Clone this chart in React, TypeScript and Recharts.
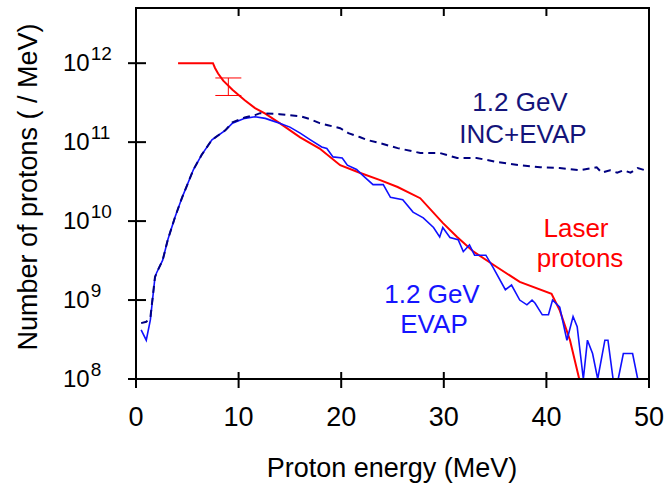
import React from 'react';
import { ComposedChart, Line, XAxis, YAxis, Scatter, ErrorBar } from 'recharts';

const xTicks = [0, 10, 20, 30, 40, 50];
const yTicks = [1e8, 1e9, 1e10, 1e11, 1e12];
const xDomain = [0, 50];
const yDomain = [1e8, 5e12];

const laserEnergy = [4.1, 7.5, 7.7, 8.0, 8.5, 9.4, 10.6, 11.6, 12.6, 14.0, 16.0, 17.9, 19.9, 21.8, 23.8, 25.5, 27.7, 29.9, 31.3, 32.9, 35.2, 37.4, 40.5, 41.3, 42.3, 43.2];
const laserCounts = [1e12, 1e12, 8.7e11, 7.4e11, 6.0e11, 4.6e11, 3.4e11, 2.7e11, 2.3e11, 1.74e11, 1.15e11, 8.3e10, 5.1e10, 4.1e10, 3.3e10, 2.7e10, 1.95e10, 9.5e9, 6.3e9, 4.1e9, 2.6e9, 1.7e9, 1.2e9, 7.4e8, 3.1e8, 1.0e8];

const errEnergy = [9.0];
const errCounts = [5.1e11];
const errRange = [[1.2e11, 1.4e11]];

const evapEnergy = [0.5, 1.0, 1.4, 1.85, 2.0, 2.6, 3.1, 3.8, 4.5, 5.6, 6.4, 7.4, 8.7, 9.4, 10.6, 11.6, 12.6, 13.1, 14.0, 15.0, 16.0, 17.0, 18.1, 18.6, 19.2, 20.1, 20.6, 21.5, 22.1, 23.1, 24.1, 24.8, 26.0, 27.0, 28.0, 29.0, 29.6, 29.9, 30.6, 31.4, 31.9, 32.5, 33.0, 34.1, 34.8, 36.0, 36.6, 37.4, 38.1, 38.6, 38.9, 39.6, 40.2, 40.6, 41.3, 42.0, 42.6, 43.0, 43.6, 44.0, 44.5, 45.0, 45.7, 46.0, 46.5, 47.0, 47.5, 48.4, 48.9];
const evapCounts = [4.2e8, 3.1e8, 5.6e8, 1.95e9, 2.2e9, 3.2e9, 5.8e9, 1.12e10, 2.0e10, 4.5e10, 6.9e10, 1.07e11, 1.41e11, 1.74e11, 2.0e11, 2.1e11, 2.0e11, 1.9e11, 1.74e11, 1.55e11, 1.3e11, 1.07e11, 8.7e10, 8.3e10, 6.5e10, 6.3e10, 5.1e10, 4.5e10, 3.8e10, 2.9e10, 2.9e10, 2.0e10, 1.86e10, 1.3e10, 1.1e10, 8.3e9, 6.3e9, 8.3e9, 6.2e9, 5.8e9, 4.1e9, 5.0e9, 3.7e9, 3.7e9, 2.6e9, 1.35e9, 1.55e9, 1.0e9, 8.7e8, 1.0e9, 9.1e8, 6.5e8, 6.5e8, 1.0e9, 8.1e8, 3.1e8, 6.2e8, 4.6e8, 1e8, 3.1e8, 2.1e8, 1e8, 3.1e8, 3.1e8, 1e8, 1e8, 2.1e8, 2.1e8, 1e8];

const incEnergy = [0.5, 1.0, 1.4, 1.85, 2.0, 2.6, 3.1, 3.8, 4.5, 5.6, 6.4, 7.4, 8.7, 9.4, 10.6, 11.6, 12.1, 14.0, 16.0, 17.0, 17.9, 18.7, 19.9, 20.7, 21.8, 22.6, 23.8, 25.5, 27.7, 29.6, 31.3, 33.2, 35.2, 37.4, 39.4, 41.3, 43.3, 44.9, 45.4, 46.2, 46.9, 47.5, 48.2, 48.9, 49.9];
const incCounts = [5.1e8, 5.3e8, 6.0e8, 1.95e9, 2.2e9, 3.2e9, 5.8e9, 1.12e10, 2.0e10, 4.5e10, 6.9e10, 1.07e11, 1.41e11, 1.78e11, 2.05e11, 2.2e11, 2.33e11, 2.26e11, 2.13e11, 1.95e11, 1.74e11, 1.64e11, 1.5e11, 1.3e11, 1.16e11, 1.06e11, 9.7e10, 8.4e10, 7.3e10, 7.3e10, 6.3e10, 6.3e10, 5.6e10, 5.1e10, 4.8e10, 4.7e10, 4.4e10, 4.8e10, 4.1e10, 4.4e10, 4.1e10, 4.4e10, 4.1e10, 4.7e10, 4.3e10];

const toData = (xs: number[], ys: number[]) => xs.map((x, i) => ({ x, y: ys[i] }));
const laserData = toData(laserEnergy, laserCounts);
const evapData = toData(evapEnergy, evapCounts);
const incData = toData(incEnergy, incCounts);
const errData = errEnergy.map((x, i) => ({ x, y: errCounts[i], err: errRange[i] }));

const FONT = '"Liberation Sans", Arial, sans-serif';

// layout of the plot box (shared by chart margins and frame)
const W = 667;
const H = 483;
const PLOT_LEFT = 136;
const PLOT_TOP = 8;
const PLOT_RIGHT = 649;
const PLOT_BOTTOM = 379;

const XTick = (props: any) => {
  const { x, y, payload } = props;
  const inner = payload.value !== xDomain[0] && payload.value !== xDomain[1];
  return (
    <g>
      <line x1={x} x2={x} y1={y - 7} y2={y + 9} stroke="#000" strokeWidth={2} />
      {inner && <line x1={x} x2={x} y1={PLOT_TOP} y2={PLOT_TOP + 8} stroke="#000" strokeWidth={2} />}
      <text x={x} y={y + 47} textAnchor="middle" fontSize={27} fill="#000" fontFamily={FONT}>
        {payload.value}
      </text>
    </g>
  );
};

const YTick = (props: any) => {
  const { x, y, payload } = props;
  const exp = Math.round(Math.log10(payload.value));
  return (
    <g>
      <line x1={x - 8} x2={x + 10} y1={y} y2={y} stroke="#000" strokeWidth={2} />
      <text x={x - 73} y={y + 8} textAnchor="start" fontSize={24} fill="#000" fontFamily={FONT}>
        <tspan>10</tspan>
        <tspan dx={1} dy={-11} fontSize={19}>{exp}</tspan>
      </text>
    </g>
  );
};

export default function App() {
  return (
    <div style={{ position: 'absolute', left: 0, top: 0, width: W, height: H, background: '#fff', fontFamily: FONT }}>
      <ComposedChart
        width={W}
        height={H}
        margin={{ top: PLOT_TOP, right: W - PLOT_RIGHT, left: 0, bottom: 0 }}
      >
        <XAxis
          dataKey="x"
          type="number"
          domain={xDomain}
          ticks={xTicks}
          height={H - PLOT_BOTTOM}
          tickSize={0}
          tickMargin={0}
          tickLine={false}
          tick={<XTick />}
          axisLine={{ stroke: '#000', strokeWidth: 2 }}
        />
        <YAxis
          type="number"
          scale="log"
          domain={yDomain}
          ticks={yTicks}
          width={PLOT_LEFT}
          tickSize={0}
          tickMargin={0}
          tickLine={false}
          tick={<YTick />}
          axisLine={{ stroke: '#000', strokeWidth: 2 }}
          allowDataOverflow
        />
        <Line data={laserData} dataKey="y" type="linear" stroke="#ff0000" strokeWidth={2} dot={false} isAnimationActive={false} />
        <Line data={evapData} dataKey="y" type="linear" stroke="#1010ff" strokeWidth={1.6} dot={false} isAnimationActive={false} />
        <Line data={incData} dataKey="y" type="linear" stroke="#000080" strokeWidth={2} strokeDasharray="7 5" dot={false} isAnimationActive={false} />
        <Scatter data={errData} dataKey="y" shape={() => <g />} isAnimationActive={false}>
          <ErrorBar dataKey="err" direction="y" width={13} stroke="#ff0000" strokeWidth={1} />
        </Scatter>
      </ComposedChart>
      <svg width={W} height={H} style={{ position: 'absolute', left: 0, top: 0, pointerEvents: 'none' }} fontFamily={FONT}>
        <rect
          x={PLOT_LEFT}
          y={PLOT_TOP}
          width={PLOT_RIGHT - PLOT_LEFT}
          height={PLOT_BOTTOM - PLOT_TOP}
          fill="none"
          stroke="#000"
          strokeWidth={2}
        />
        <text x={392} y={477} textAnchor="middle" fontSize={27} fill="#000">Proton energy (MeV)</text>
        <text x={37} y={187} textAnchor="middle" fontSize={27} fill="#000" transform="rotate(-90, 37, 187)">Number of protons ( / MeV)</text>
        <text x={520} y={111} textAnchor="middle" fontSize={26} fill="#14147a">1.2 GeV</text>
        <text x={523} y={143} textAnchor="middle" fontSize={26} fill="#14147a">INC+EVAP</text>
        <text x={576} y={237} textAnchor="middle" fontSize={26} fill="#ff0000">Laser</text>
        <text x={580} y={267} textAnchor="middle" fontSize={26} fill="#ff0000">protons</text>
        <text x={432} y={303} textAnchor="middle" fontSize={26} fill="#1515ff">1.2 GeV</text>
        <text x={434} y={333} textAnchor="middle" fontSize={26} fill="#1515ff">EVAP</text>
      </svg>
    </div>
  );
}
